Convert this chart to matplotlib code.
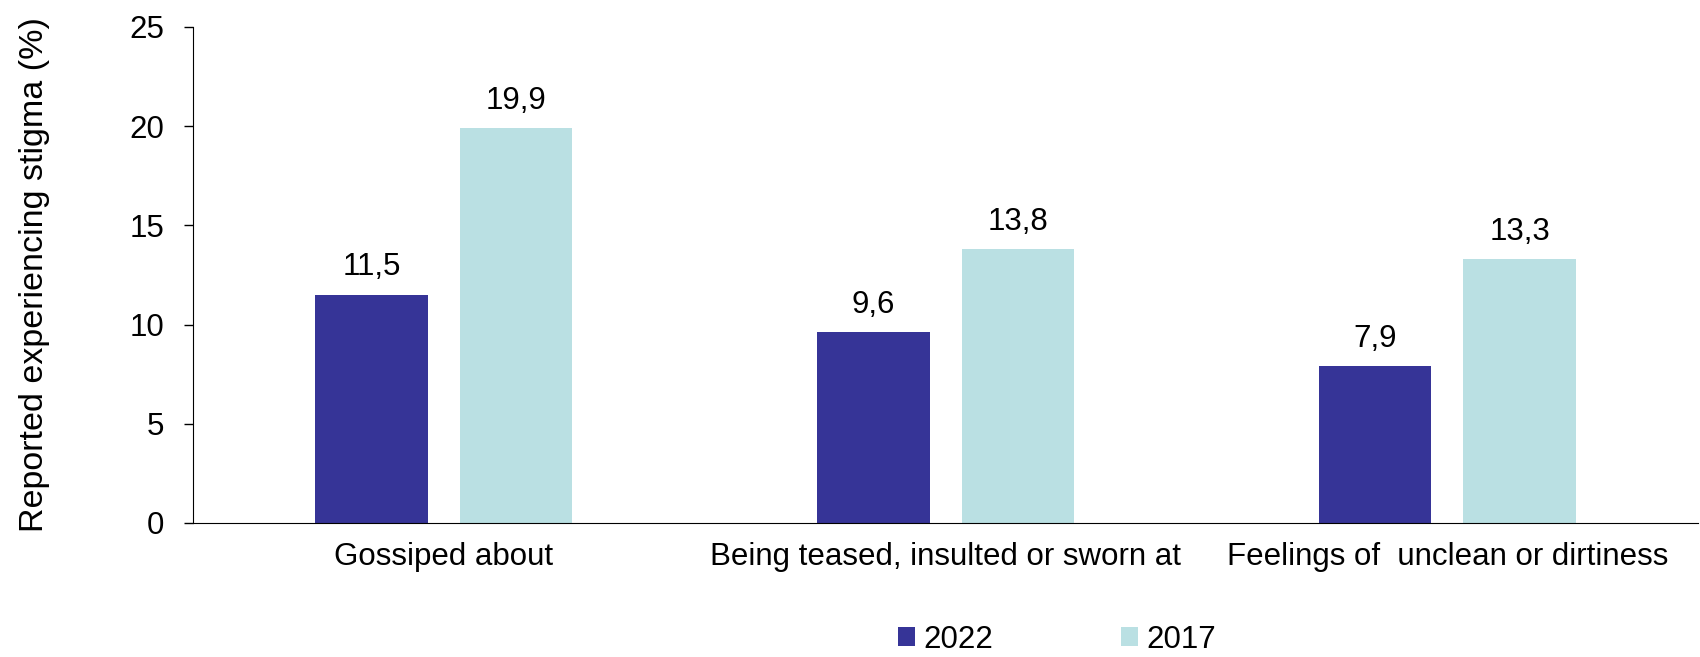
import matplotlib.pyplot as plt
import numpy as np

categories = ['Gossiped about', 'Being teased, insulted or sworn at',
              'Feelings of  unclean or dirtiness']
years = ['2022', '2017']
vals_2022 = [11.5, 9.6, 7.9]
vals_2017 = [19.9, 13.8, 13.3]
colors = ['#363497', '#BAE0E3']

plt.rcParams['font.family'] = ['Liberation Sans', 'DejaVu Sans']
plt.rcParams['font.size'] = 22.5

fig = plt.figure(figsize=(17, 6.57), dpi=100)
ax = fig.add_axes([0.1135, 0.204, 0.8855, 0.755])

x = np.arange(len(categories))
w = 0.224
off = 0.144

for i, (vals, yr) in enumerate(zip([vals_2022, vals_2017], years)):
	bars = ax.bar(x + (2*i - 1)*off, vals, w, color=colors[i], label=yr)
	for b, v in zip(bars, vals):
		ax.annotate(('%.1f' % v).replace('.', ','),
			(b.get_x() + b.get_width()/2, v),
			xytext=(0, 9), textcoords='offset points',
			ha='center', va='bottom')

ax.set_xlim(-0.5, 2.5)
ax.set_ylim(0, 25)
ax.set_yticks(range(0, 26, 5))
ax.set_xticks(x)
ax.set_xticklabels(categories)
ax.tick_params(axis='x', length=0, pad=14)
ax.tick_params(axis='y', length=6.5, width=1, pad=14, direction='out')
ax.spines['top'].set_visible(False)
ax.spines['right'].set_visible(False)
ax.set_ylabel('Reported experiencing stigma (%)', fontsize=24.5)
ax.yaxis.set_label_coords(-0.095, 0.5)

leg = ax.legend(loc='center', bbox_to_anchor=(0.574, -0.235), bbox_transform=ax.transAxes,
	ncol=2, frameon=False, handlelength=0.55, handleheight=0.55,
	handletextpad=0.25, columnspacing=4.1)

fig.savefig('out.png', dpi=100)
